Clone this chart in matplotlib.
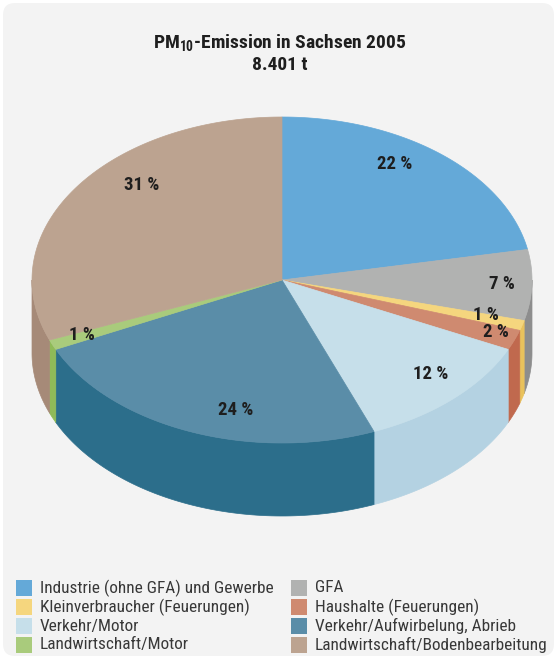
import numpy as np
import matplotlib
matplotlib.use("Agg")
import matplotlib.pyplot as plt
from matplotlib import font_manager
from matplotlib.patches import Polygon, Rectangle, FancyBboxPatch

# PM10-Emissionen 2005 nach Verursachergruppen (Anteile in %)
kategorien = [
    "Industrie (ohne GFA) und Gewerbe",
    "GFA",
    "Kleinverbraucher (Feuerungen)",
    "Haushalte (Feuerungen)",
    "Verkehr/Motor",
    "Verkehr/Aufwirbelung, Abrieb",
    "Landwirtschaft/Motor",
    "Landwirtschaft/Bodenbearbeitung",
]
anteile = [22, 7, 1, 2, 12, 24, 1, 31]
farben_oben = ["#64a9d8", "#b1b2b1", "#f5d67e", "#cf8a70",
               "#c6dfea", "#5a8da8", "#a9cb7c", "#bca390"]
farben_seite = ["#4f8fbd", "#8d8d8d", "#e9c25c", "#c0694e",
                "#b4d2e2", "#2c6e8b", "#8fba58", "#a68a78"]
titel = "PM$_{\\mathregular{10}}$-Emission in Sachsen 2005"
gesamt = "8.401 t"

# Schrift: schmale Grotesk, falls vorhanden
schrift = "Roboto"
for kandidat in ["Roboto Condensed", "Liberation Sans Narrow",
                 "DejaVu Sans Condensed", "Roboto"]:
    try:
        font_manager.findfont(kandidat, fallback_to_default=False)
        schrift = kandidat
        break
    except Exception:
        pass
plt.rcParams["font.family"] = [schrift, "DejaVu Sans"]
plt.rcParams["mathtext.fontset"] = "custom"
plt.rcParams["mathtext.rm"] = schrift + ":bold"

W, H = 557, 659
fig = plt.figure(figsize=(W / 100, H / 100), dpi=100)
fig.patch.set_facecolor("white")
ax = fig.add_axes([0, 0, 1, 1])
ax.set_xlim(0, W)
ax.set_ylim(H, 0)
ax.axis("off")

# Hintergrundkarte mit runden Ecken
ax.add_patch(FancyBboxPatch((3, 3), W - 6, H - 6,
                            boxstyle="round,pad=0,rounding_size=12",
                            fc="#f3f3f3", ec="none", zorder=0))

# Geometrie der 3D-Torte
cx, cy = 282, 280
rx, ry = 250, 163
tiefe = 73


def punkt(t, f=1.0):
    return cx + rx * f * np.cos(t), cy - ry * f * np.sin(t)


kum = np.concatenate([[0], np.cumsum(anteile)]) / sum(anteile)
winkel = np.radians(90 - kum * 360)  # im Uhrzeigersinn ab 12 Uhr

# Seitenwände (nur vordere Hälfte sichtbar)
for i in range(len(anteile)):
    a, b = winkel[i], winkel[i + 1]
    lo, hi = max(b, -np.pi), min(a, 0.0)
    if hi <= lo:
        continue
    ts = np.linspace(hi, lo, 80)
    x, y = punkt(ts)
    poly = np.vstack([np.column_stack([x, y]),
                      np.column_stack([x, y + tiefe])[::-1]])
    ax.add_patch(Polygon(poly, closed=True, fc=farben_seite[i],
                         ec=farben_seite[i], lw=0.5, zorder=2))

# Deckfläche
for i in range(len(anteile)):
    ts = np.linspace(winkel[i], winkel[i + 1], 120)
    x, y = punkt(ts)
    poly = np.vstack([[cx, cy], np.column_stack([x, y])])
    ax.add_patch(Polygon(poly, closed=True, fc=farben_oben[i],
                         ec=farben_oben[i], lw=0.5, zorder=3))

# Prozentbeschriftungen
lab_fx = [0.71, 0.88, 0.85, 0.92, 0.87, 0.50, 0.87, 0.68]
lab_fy = [0.92, 0.80, 0.76, 0.86, 0.79, 0.86, 0.85, 1.04]
for i, wert in enumerate(anteile):
    m = (winkel[i] + winkel[i + 1]) / 2
    x = cx + rx * lab_fx[i] * np.cos(m)
    y = cy - ry * lab_fy[i] * np.sin(m)
    ax.text(x, y, f"{wert} %", ha="center", va="center", fontsize=13.5,
            fontweight="bold", color="#1e1e1e", zorder=5)

# Titel
ax.text(W / 2 + 1, 43, titel, ha="center", va="center", fontsize=14,
        fontweight="bold", color="#1e1e1e")
ax.text(W / 2 + 1, 65, gesamt, ha="center", va="center", fontsize=14,
        fontweight="bold", color="#1e1e1e")

# Legende, zweispaltig zeilenweise
for i, (name, farbe) in enumerate(zip(kategorien, farben_oben)):
    zeile, spalte = divmod(i, 2)
    x0 = 16 + spalte * 275
    y0 = 588 + zeile * 19
    ax.add_patch(Rectangle((x0, y0 - 8), 16, 16, fc=farbe, ec="none"))
    ax.text(x0 + 24, y0, name, ha="left", va="center", fontsize=12.4,
            color="#383838")

fig.savefig("out.png", dpi=100, facecolor=fig.get_facecolor())
